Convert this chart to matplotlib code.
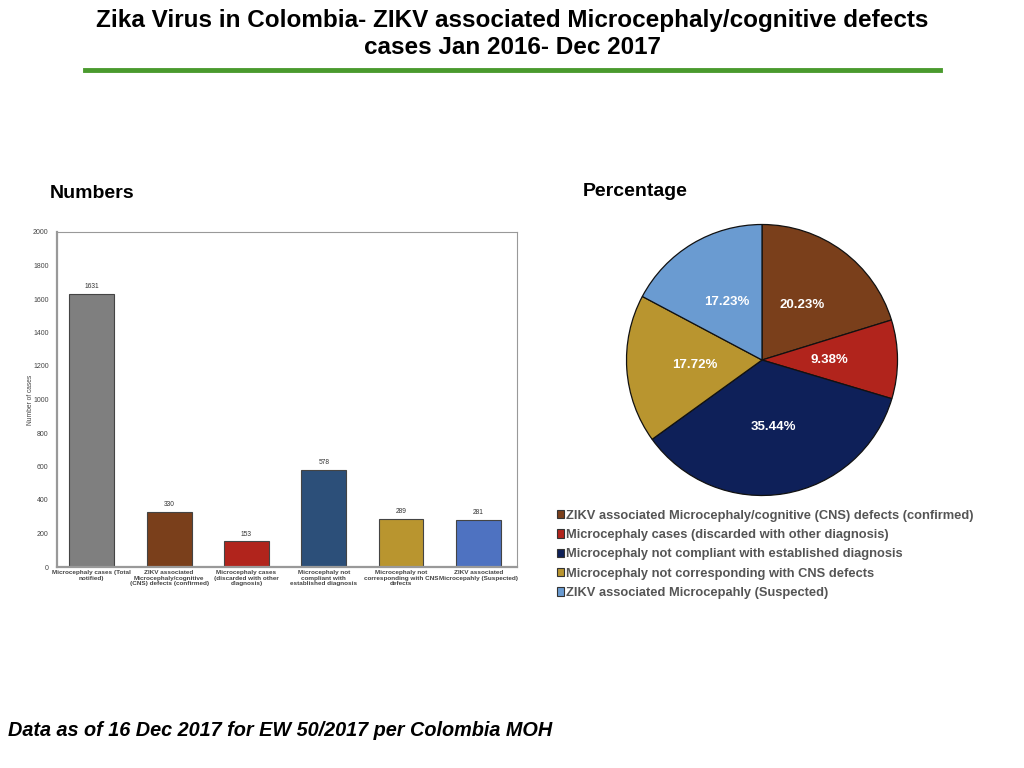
import matplotlib
matplotlib.use("Agg")
import matplotlib.pyplot as plt
from matplotlib.patches import Patch

plt.rcParams['font.family'] = ['Liberation Sans', 'DejaVu Sans']

# =========================
# DATA
# =========================
bar_labels = [
    "Microcephaly cases (Total\nnotified)",
    "ZIKV associated\nMicrocephaly/cognitive\n(CNS) defects (confirmed)",
    "Microcephaly cases\n(discarded with other\ndiagnosis)",
    "Microcephaly not\ncompliant with\nestablished diagnosis",
    "Microcephaly not\ncorresponding with CNS\ndefects",
    "ZIKV associated\nMicrocepahly (Suspected)",
]
bar_values = [1631, 330, 153, 578, 289, 281]
bar_colors = ["#7f7f7f", "#7a3f1b", "#b1241c", "#2c4f79", "#b9952f", "#4e72c1"]

pie_labels = [
    "ZIKV associated Microcephaly/cognitive (CNS) defects (confirmed)",
    "Microcephaly cases (discarded with other diagnosis)",
    "Microcephaly not compliant with established diagnosis",
    "Microcephaly not corresponding with CNS defects",
    "ZIKV associated Microcepahly (Suspected)",
]
pie_values = [20.23, 9.38, 35.44, 17.72, 17.23]
pie_colors = ["#7a3f1b", "#b1241c", "#0e2059", "#b9952f", "#6a9bd1"]

# =========================
# FIGURE
# =========================
fig = plt.figure(figsize=(10.24, 7.68), dpi=100)

fig.text(0.5, 1 - 20 / 768, "Zika Virus in Colombia- ZIKV associated Microcephaly/cognitive defects",
         ha="center", va="center", fontsize=17.5, fontweight="bold")
fig.text(0.5, 1 - 47 / 768, "cases Jan 2016- Dec 2017",
         ha="center", va="center", fontsize=17.5, fontweight="bold")
fig.add_artist(plt.Line2D([85 / 1024, 940 / 1024], [1 - 70 / 768, 1 - 70 / 768],
                          color="#4a9a2e", linewidth=3.5))

fig.text(92 / 1024, 1 - 193 / 768, "Numbers", ha="center", va="center",
         fontsize=14, fontweight="bold")
fig.text(635 / 1024, 1 - 191 / 768, "Percentage", ha="center", va="center",
         fontsize=14, fontweight="bold")
fig.text(8 / 1024, 1 - 730 / 768, "Data as of 16 Dec 2017 for EW 50/2017 per Colombia MOH",
         ha="left", va="center", fontsize=14.3, fontweight="bold", style="italic")

# =========================
# BAR CHART
# =========================
ax = fig.add_axes([57 / 1024, 1 - 567 / 768, 460 / 1024, 335 / 768])
x = range(len(bar_values))
ax.bar(x, bar_values, width=0.58, color=bar_colors, edgecolor="#444444", linewidth=0.8)
for xi, v in zip(x, bar_values):
    ax.text(xi, v + 22, str(v), ha="center", va="bottom", fontsize=4.8, color="#333333")
ax.set_xlim(-0.45, 5.5)
ax.set_ylim(0, 2000)
ax.set_yticks(range(0, 2001, 200))
ax.set_xticks(list(x))
ax.set_xticklabels(bar_labels, fontsize=4.6, color="#444444", fontweight="bold", linespacing=1.1)
ax.tick_params(axis="y", labelsize=5, labelcolor="#444444", length=0, pad=6)
ax.tick_params(axis="x", length=0, pad=2.5)
ax.set_ylabel("Number of cases", fontsize=4.8, color="#444444", labelpad=-1)
for s in ax.spines.values():
    s.set_color("#999999")
    s.set_linewidth(0.8)
ax.spines["left"].set_linewidth(1.6)
ax.spines["bottom"].set_linewidth(1.6)

# =========================
# PIE CHART
# =========================
pax = fig.add_axes([(762 - 135.5) / 1024, 1 - 495.5 / 768, 271 / 1024, 271 / 768])
wedges, texts, autotexts = pax.pie(
    pie_values, colors=pie_colors, startangle=90, counterclock=False,
    autopct="%.2f%%", pctdistance=0.5,
    wedgeprops=dict(edgecolor="#111111", linewidth=0.9),
    textprops=dict(color="white", fontsize=9.5, fontweight="bold"))
for w in wedges:
    w.set_clip_on(False)
pax.set_xlim(-1, 1)
pax.set_ylim(-1, 1)
pax.set_aspect("equal")

handles = [Patch(facecolor=c, edgecolor="#333333", linewidth=0.8) for c in pie_colors]
fig.legend(handles, pie_labels, loc="upper left",
           bbox_to_anchor=(545 / 1024, 1 - 498 / 768), frameon=False,
           handlelength=0.6, handleheight=0.6, handletextpad=0.1,
           labelspacing=0.57, labelcolor="#555555",
           prop=dict(weight="bold", size=9.3))

fig.savefig("out.png", dpi=100)
